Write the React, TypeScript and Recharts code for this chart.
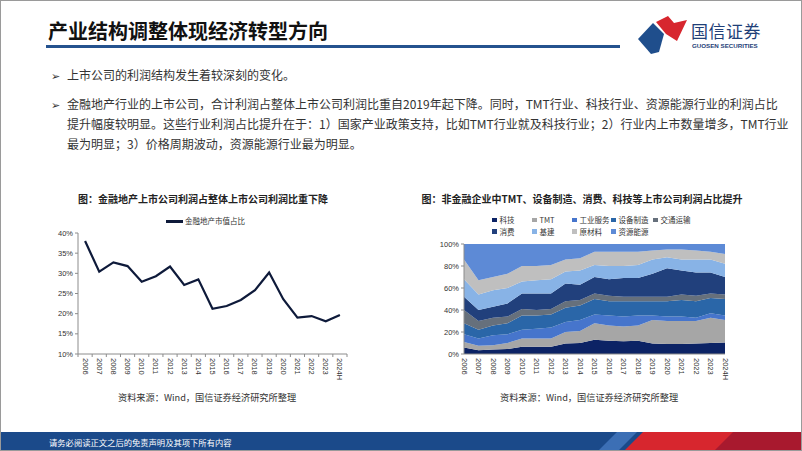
import { Area, AreaChart, Line, LineChart, XAxis, YAxis } from 'recharts';

const years = ['2006', '2007', '2008', '2009', '2010', '2011', '2012', '2013', '2014', '2015', '2016', '2017', '2018', '2019', '2020', '2021', '2022', '2023', '2024H'];

// 金融地产市值占比 (%)
const finShare = [38, 30.4, 32.7, 31.8, 27.9, 29.3, 31.7, 27.1, 28.5, 21.2, 21.9, 23.4, 25.8, 30.2, 23.6, 19.0, 19.4, 18.1, 19.7];
const lineTicks = [10, 15, 20, 25, 30, 35, 40];

// 非金融企业利润占比 (%), bottom to top
const tech = [6, 3.5, 4, 4.5, 6.5, 6.5, 6.5, 9.5, 10, 13, 12, 11.5, 12, 9.5, 9, 9, 9.5, 10, 10.5];
const tmt = [5, 4, 4, 5.5, 7.5, 7.5, 7.5, 10.5, 11, 15, 14, 13.5, 14, 21.5, 21, 21, 20.5, 23, 20.5];
const indService = [7, 6.5, 9, 8, 8, 9, 10, 9, 10, 8, 9, 9, 9, 4, 4, 4, 3, 4, 4];
const equipment = [10, 8, 9, 10, 13, 12, 12, 13, 13, 14, 13, 14, 13, 13, 14, 15, 15, 14, 15];
const transport = [12, 8, 7, 6, 6, 5, 5, 6, 5, 5, 5, 4, 4, 4, 4, 5, 5, 4, 4];
const consumer = [12, 10, 10, 12, 14, 15, 14, 16, 14, 15, 15, 17, 17, 21, 26, 22, 21, 19, 16];
const infra = [16, 14, 15, 14, 11, 12, 13, 11, 13, 11, 12, 11, 12, 13, 10, 10, 12, 12, 12];
const materials = [18, 13, 12, 13, 14, 13, 13, 11, 11, 12, 13, 13, 12, 8, 7, 9, 8, 7, 9];
const resources = [14, 33, 30, 27, 20, 20, 19, 14, 13, 7, 7, 7, 7, 6, 5, 5, 6, 7, 9];
const areaTicks = [0, 10, 20, 30, 40, 50, 60, 70, 80, 90, 100];

const series = [
  { key: 'tech', name: '科技', color: '#0C2365', values: tech },
  { key: 'tmt', name: 'TMT', color: '#A6A6A6', values: tmt },
  { key: 'indService', name: '工业服务', color: '#4675CC', values: indService },
  { key: 'equipment', name: '设备制造', color: '#2A66A8', values: equipment },
  { key: 'transport', name: '交通运输', color: '#66707C', values: transport },
  { key: 'consumer', name: '消费', color: '#21407C', values: consumer },
  { key: 'infra', name: '基建', color: '#88B3E6', values: infra },
  { key: 'materials', name: '原材料', color: '#BFBFBF', values: materials },
  { key: 'resources', name: '资源能源', color: '#5D8AD6', values: resources },
];

const lineData = years.map((year, i) => ({ year, value: finShare[i] }));
const areaData = years.map((year, i) => {
  const row: Record<string, string | number> = { year };
  series.forEach(s => { row[s.key] = s.values[i]; });
  return row;
});

const cjk = '"Noto Sans CJK SC", "Noto Sans", sans-serif';
const latin = '"Liberation Sans", Arial, sans-serif';
const axisGray = '#8C8C8C';

const linePlotW = 269;
const lineStep = linePlotW / years.length;

const LineYearTick = (props: any) => {
  const { x, y, payload, index } = props;
  const half = lineStep / 2;
  return (
    <g>
      <line x1={x - half} x2={x - half} y1={y} y2={y + 3} stroke={axisGray} />
      {index === years.length - 1 && <line x1={x + half} x2={x + half} y1={y} y2={y + 3} stroke={axisGray} />}
      <text x={x} y={y + 4} transform={`rotate(90 ${x} ${y + 4})`} textAnchor="start" dominantBaseline="central" fontSize={7.5} fill="#333" fontFamily={latin}>
        {payload.value}
      </text>
    </g>
  );
};

const AreaYearTick = (props: any) => {
  const { x, y, payload } = props;
  return (
    <text x={x} y={y + 4} transform={`rotate(90 ${x} ${y + 4})`} textAnchor="start" dominantBaseline="central" fontSize={7.5} fill="#333" fontFamily={latin}>
      {payload.value}
    </text>
  );
};

const legendRows = [
  [{ s: 0, x: 491 }, { s: 1, x: 531 }, { s: 2, x: 571 }, { s: 3, x: 610 }, { s: 4, x: 652 }],
  [{ s: 5, x: 491 }, { s: 6, x: 531 }, { s: 7, x: 571 }, { s: 8, x: 610 }],
];

const abs = (left: number, top: number, extra: any = {}) => ({ position: 'absolute' as const, left, top, whiteSpace: 'nowrap' as const, ...extra });

export default function App() {
  return (
    <div style={{ position: 'absolute', left: 0, top: 0, width: 802, height: 451, background: '#fff', border: '1px solid #9a9a9a', boxSizing: 'border-box', overflow: 'hidden', fontFamily: cjk, color: '#333' }}>
      {/* header */}
      <div style={abs(47, 16, { fontSize: 20, fontWeight: 700, lineHeight: '28px', color: '#111' })}>产业结构调整体现经济转型方向</div>
      <div style={abs(45, 44, { width: 574, height: 3, background: '#24528E' })} />
      <svg style={abs(636, 14)} width={52} height={40}>
        <polygon points="1,24 16,8 27,19 22,37 14,39" fill="#1F4E8C" />
        <polygon points="19,7 31,1 37,8 50,5 40,26 29,19" fill="#D7262E" />
      </svg>
      <div style={abs(690, 19, { fontSize: 17, lineHeight: '22px', color: '#1F3F78', letterSpacing: 0.5 })}>国信证券</div>
      <div style={abs(691, 41, { fontSize: 6.2, lineHeight: '8px', color: '#1F3F78', fontFamily: latin, fontWeight: 700 })}>GUOSEN SECURITIES</div>

      {/* bullets */}
      <div style={abs(50, 64, { fontSize: 11, lineHeight: '20px' })}>➢</div>
      <div style={abs(66, 64, { fontSize: 12, lineHeight: '20px' })}>上市公司的利润结构发生着较深刻的变化。</div>
      <div style={abs(50, 93, { fontSize: 11, lineHeight: '20px' })}>➢</div>
      <div style={abs(66, 93, { fontSize: 12, lineHeight: '20px' })}>金融地产行业的上市公司，合计利润占整体上市公司利润比重自2019年起下降。同时，TMT行业、科技行业、资源能源行业的利润占比</div>
      <div style={abs(66, 113, { fontSize: 12, lineHeight: '20px' })}>提升幅度较明显。这些行业利润占比提升在于：1）国家产业政策支持，比如TMT行业就及科技行业；2）行业内上市数量增多，TMT行业</div>
      <div style={abs(66, 133, { fontSize: 12, lineHeight: '20px' })}>最为明显；3）价格周期波动，资源能源行业最为明显。</div>

      {/* left chart */}
      <div style={abs(0, 191, { width: 404, textAlign: 'center', fontSize: 10, fontWeight: 700, lineHeight: '14px', color: '#222' })}>图：金融地产上市公司利润占整体上市公司利润比重下降</div>
      <div style={abs(165, 219, { width: 17, height: 2.5, background: '#0E1A3A' })} />
      <div style={abs(184, 215, { fontSize: 7.5, lineHeight: '10px' })}>金融地产市值占比</div>
      <div style={abs(40, 225)}>
        <LineChart width={307} height={160} data={lineData} margin={{ top: 7, right: 1, left: 0, bottom: 0 }}>
          <XAxis dataKey="year" interval={0} padding={{ left: lineStep / 2, right: lineStep / 2 }} tickSize={0} tickMargin={0} tickLine={false} axisLine={{ stroke: axisGray }} height={32} tick={LineYearTick} />
          <YAxis domain={[10, 40]} ticks={lineTicks} tickFormatter={(v: number) => `${v}%`} width={37} tickSize={3} tickMargin={2} axisLine={{ stroke: axisGray }} tickLine={{ stroke: axisGray }} tick={{ fontSize: 7.5, fill: '#333', fontFamily: latin }} />
          <Line type="linear" dataKey="value" stroke="#0E1A3A" strokeWidth={2.2} dot={false} isAnimationActive={false} />
        </LineChart>
      </div>
      <div style={abs(117, 390, { fontSize: 9.2, lineHeight: '12px' })}>资料来源：Wind，国信证券经济研究所整理</div>

      {/* right chart */}
      <div style={abs(400, 191, { width: 362, textAlign: 'center', fontSize: 10, fontWeight: 700, lineHeight: '14px', color: '#222' })}>图：非金融企业中TMT、设备制造、消费、科技等上市公司利润占比提升</div>
      {legendRows.map((row, r) => row.map(item => (
        <div key={series[item.s].key} style={abs(item.x, 214 + r * 11.5, { fontSize: 7.5, lineHeight: '10px', display: 'flex', alignItems: 'center' })}>
          <span style={{ display: 'inline-block', width: 4.5, height: 4.5, background: series[item.s].color, marginRight: 3 }} />
          {series[item.s].name}
        </div>
      )))}
      <div style={abs(430, 238)}>
        <AreaChart width={306} height={150} data={areaData} margin={{ top: 5, right: 12, left: 0, bottom: 0 }}>
          <XAxis dataKey="year" interval={0} tickSize={0} tickMargin={0} tickLine={false} axisLine={{ stroke: axisGray }} height={35} tick={AreaYearTick} />
          <YAxis domain={[0, 100]} ticks={areaTicks} tickFormatter={(v: number) => `${v}%`} width={33} tickSize={3} tickMargin={2} axisLine={{ stroke: axisGray }} tickLine={{ stroke: axisGray }} tick={{ fontSize: 7.5, fill: '#333', fontFamily: latin }} />
          {series.map(s => (
            <Area key={s.key} type="linear" dataKey={s.key} name={s.name} stackId="a" stroke="none" fill={s.color} fillOpacity={1} isAnimationActive={false} />
          ))}
        </AreaChart>
      </div>
      <div style={abs(499, 390, { fontSize: 9.2, lineHeight: '12px' })}>资料来源：Wind，国信证券经济研究所整理</div>

      {/* footer */}
      <svg style={abs(0, 431)} width={802} height={20}>
        <rect x={0} y={0} width={802} height={20} fill="#1B4A8A" />
        <polygon points="596,20 616,0 636,0 616,20" fill="#3C6FB5" />
        <polygon points="622,20 642,0 802,0 802,20" fill="#D7262E" />
        <polygon points="712,20 732,0 802,0 802,20" fill="#A8192E" />
      </svg>
      <div style={abs(48, 435, { fontSize: 8.3, lineHeight: '12px', color: '#fff' })}>请务必阅读正文之后的免责声明及其项下所有内容</div>
    </div>
  );
}
